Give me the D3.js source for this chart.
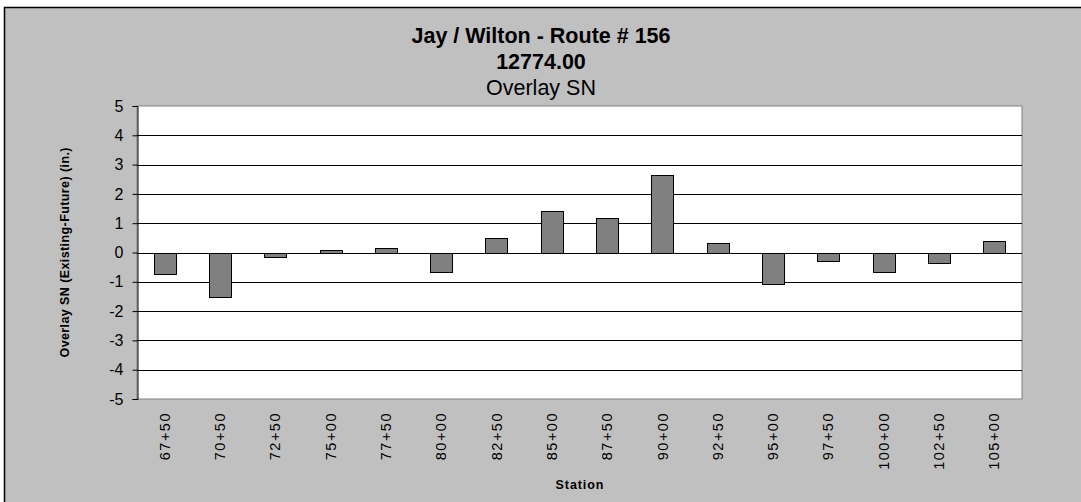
<!DOCTYPE html>
<html>
<head>
<meta charset="utf-8">
<script src="https://cdn.jsdelivr.net/npm/d3@7"></script>
<style>
  html, body { margin: 0; padding: 0; background: #ffffff; }
  svg { display: block; }
  text { font-family: Arial, "Liberation Sans", sans-serif; }
</style>
</head>
<body>
<svg id="chart" width="1081" height="502"></svg>
<script>
// Station labels along the route
const stations = ["67+50", "70+50", "72+50", "75+00", "77+50", "80+00", "82+50", "85+00",
                  "87+50", "90+00", "92+50", "95+00", "97+50", "100+00", "102+50", "105+00"];
// Overlay SN difference (Existing - Future), inches
const overlaySN = [-0.73, -1.51, -0.17, 0.10, 0.17, -0.66, 0.51, 1.40,
                   1.19, 2.63, 0.34, -1.09, -0.30, -0.65, -0.37, 0.39];
// Value axis ticks
const yTicks = [-5, -4, -3, -2, -1, 0, 1, 2, 3, 4, 5];
const titleLines = ["Jay / Wilton - Route # 156", "12774.00", "Overlay SN"];

const svg = d3.select("#chart");

// Chart area background with dark top/left edge
svg.append("rect").attr("x", 4).attr("y", 7).attr("width", 1077).attr("height", 495)
  .attr("fill", "#c0c0c0");
svg.append("path").attr("d", "M4.5,502V7.5H1081")
  .attr("fill", "none").attr("stroke", "#000").attr("stroke-width", 1.5);

const plot = { left: 137, top: 106, right: 1022, bottom: 399 };

const x = d3.scaleBand().domain(stations)
  .range([plot.left, plot.right]).paddingInner(0.6).paddingOuter(0.3);
const y = d3.scaleLinear().domain([-5, 5]).range([plot.bottom, plot.top]);

// Plot area
svg.append("rect")
  .attr("x", plot.left).attr("y", plot.top)
  .attr("width", plot.right - plot.left).attr("height", plot.bottom - plot.top)
  .attr("fill", "#ffffff").attr("stroke", "#808080").attr("stroke-width", 1);

// Horizontal gridlines
svg.append("g").selectAll("line").data(yTicks.filter(d => d !== -5 && d !== 5)).join("line")
  .attr("x1", plot.left).attr("x2", plot.right)
  .attr("y1", d => Math.round(y(d)) + 0.5).attr("y2", d => Math.round(y(d)) + 0.5)
  .attr("stroke", "#000").attr("stroke-width", 1);

// Bars
svg.append("g").selectAll("rect").data(stations).join("rect")
  .attr("x", d => Math.round(x(d)) + 0.5)
  .attr("width", Math.round(x.bandwidth()))
  .attr("y", (d, i) => Math.round(y(Math.max(0, overlaySN[i]))) + 0.5)
  .attr("height", (d, i) => Math.abs(Math.round(y(overlaySN[i])) - Math.round(y(0))))
  .attr("fill", "#808080").attr("stroke", "#000").attr("stroke-width", 1);

// Value axis
const yAxis = svg.append("g")
  .attr("transform", `translate(${plot.left + 0.5},0)`)
  .call(d3.axisLeft(y).tickValues(yTicks).tickFormat(d => String(d)).tickSize(5).tickPadding(9));
yAxis.select(".domain").attr("stroke", "#000");
yAxis.selectAll(".tick line").attr("stroke", "#000");
yAxis.selectAll(".tick text")
  .attr("font-size", 16).attr("fill", "#000")
  .style("font-family", "Arial, 'Liberation Sans', sans-serif");

// Category labels, rotated
const xAxis = svg.append("g")
  .attr("transform", `translate(0,${plot.bottom})`)
  .call(d3.axisBottom(x).tickSize(0).tickPadding(0));
xAxis.select(".domain").remove();
xAxis.selectAll(".tick text")
  .attr("transform", "translate(0,13) rotate(-90)")
  .attr("x", 0).attr("y", 0).attr("dy", "0.35em")
  .attr("text-anchor", "end")
  .attr("font-size", 14.5).attr("fill", "#000")
  .style("letter-spacing", "1.5px")
  .style("font-family", "Arial, 'Liberation Sans', sans-serif");

// Titles
const cx = 541;
svg.append("text").attr("x", cx).attr("y", 43).attr("text-anchor", "middle")
  .attr("font-size", 21.5).attr("font-weight", "bold").text(titleLines[0]);
svg.append("text").attr("x", cx).attr("y", 69).attr("text-anchor", "middle")
  .attr("font-size", 21.5).attr("font-weight", "bold").text(titleLines[1]);
svg.append("text").attr("x", cx).attr("y", 95).attr("text-anchor", "middle")
  .attr("font-size", 21.5).text(titleLines[2]);

// Axis titles
svg.append("text")
  .attr("transform", `translate(69,${(plot.top + plot.bottom) / 2}) rotate(-90)`)
  .attr("text-anchor", "middle").attr("font-size", 12.5).attr("font-weight", "bold")
  .attr("textLength", 210).attr("lengthAdjust", "spacing")
  .text("Overlay SN (Existing-Future) (in.)");
svg.append("text").attr("x", (plot.left + plot.right) / 2).attr("y", 489)
  .attr("text-anchor", "middle").attr("font-size", 12.5).attr("font-weight", "bold")
  .attr("textLength", 48).attr("lengthAdjust", "spacing")
  .text("Station");
</script>
</body>
</html>
